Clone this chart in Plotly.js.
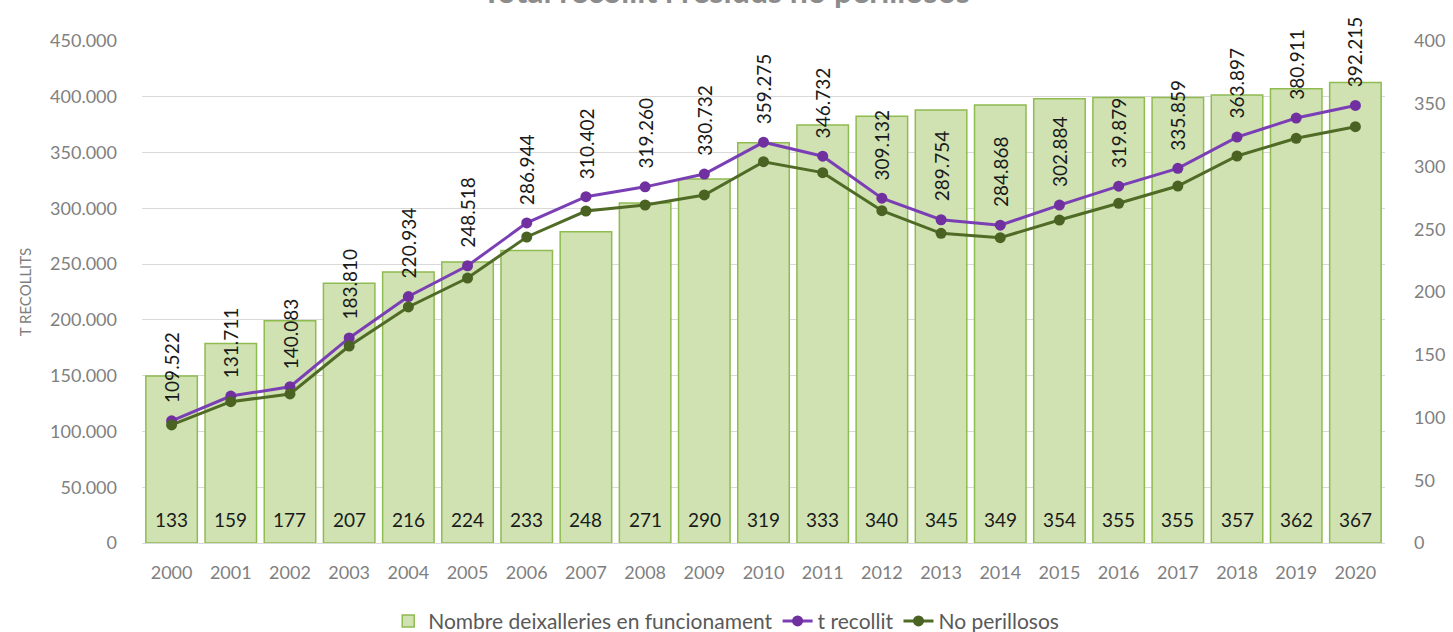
<!DOCTYPE html>
<html>
<head>
<meta charset="utf-8">
<script src="https://cdn.plot.ly/plotly-3.0.1.min.js"></script>
<style>html,body{margin:0;padding:0;background:#fff;}#chart{width:1453px;height:632px;}</style>
</head>
<body>
<div id="chart"></div>
<script>
const years = ['2000','2001','2002','2003','2004','2005','2006','2007','2008','2009','2010','2011','2012','2013','2014','2015','2016','2017','2018','2019','2020'];
const deixalleries = [133,159,177,207,216,224,233,248,271,290,319,333,340,345,349,354,355,355,357,362,367];
const tRecollit = [109522,131711,140083,183810,220934,248518,286944,310402,319260,330732,359275,346732,309132,289754,284868,302884,319879,335859,363897,380911,392215];
const noPerillosos = [105800,126700,133600,176600,211600,237500,274300,297600,303000,312000,341800,332000,297900,277600,273700,289500,304500,320000,346900,362800,373200];
const chartTitle = 'Total recollit i residus no perillosos';

function fmt(v){ return String(v).replace(/\B(?=(\d{3})+(?!\d))/g,'.'); }

const FONT = 'Lato, "Open Sans", sans-serif';

const traces = [
  {
    type:'bar', x:years, y:deixalleries, yaxis:'y', name:'Nombre deixalleries en funcionament',
    marker:{color:'#d0e2b2', line:{color:'#8fbb50', width:1.5}},
    hoverinfo:'skip'
  },
  {
    type:'scatter', mode:'lines+markers', x:years, y:tRecollit, yaxis:'y2', name:'t recollit',
    line:{color:'#7b3fb5', width:3}, marker:{color:'#7030a0', size:11}
  },
  {
    type:'scatter', mode:'lines+markers', x:years, y:noPerillosos, yaxis:'y2', name:'No perillosos',
    line:{color:'#4f6b26', width:3}, marker:{color:'#4a6323', size:11}
  }
];

const annotations = years.map((yr,i)=>({
  x:i, y:tRecollit[i], xref:'x', yref:'y2', text:fmt(tRecollit[i]),
  showarrow:false, textangle:-90, yanchor:'bottom', xanchor:'center', yshift:16,
  font:{family:FONT, size:19, color:'#1a1a1a'}
}));
years.forEach((yr,i)=>annotations.push({
  x:i, y:0, xref:'x', yref:'y', text:String(deixalleries[i]),
  showarrow:false, yanchor:'bottom', xanchor:'center', yshift:10,
  font:{family:FONT, size:19, color:'#1a1a1a'}
}));
annotations.push({
  xref:'paper', yref:'paper', x:0.47, y:1, xanchor:'center', yanchor:'middle', yshift:51,
  text:'<b>'+chartTitle+'</b>', showarrow:false, font:{family:FONT, size:32, color:'#8c8c8c'}
});

const layout = {
  width:1453, height:632,
  margin:{l:142, r:68, t:41, b:89, pad:0},
  paper_bgcolor:'#fff', plot_bgcolor:'#fff',
  font:{family:FONT, color:'#7f7f7f'},
  separators:',.',
  bargap:0.13,
  showlegend:true,
  legend:{orientation:'h', x:0.47, xanchor:'center', xref:'paper', yref:'container', y:0.017, yanchor:'middle',
          font:{family:FONT, size:21, color:'#595959'}, traceorder:'normal'},
  xaxis:{type:'category', range:[-0.5,20.5], tickfont:{family:FONT, size:18, color:'#7f7f7f'}, showline:true, linecolor:'#d9d9d9', linewidth:1,
         ticks:'', showgrid:false, zeroline:false, ticklabelstandoff:13, automargin:false},
  yaxis:{side:'right', range:[0,400], dtick:50, tickfont:{family:FONT, size:18, color:'#7f7f7f'},
         showgrid:false, zeroline:false, ticks:'', ticklabelstandoff:28, automargin:false},
  yaxis2:{overlaying:'y', side:'left', range:[0,450000], dtick:50000, tickformat:',d',
          tickfont:{family:FONT, size:18, color:'#7f7f7f'}, showgrid:true, gridcolor:'#d9d9d9', gridwidth:1,
          zeroline:false, ticks:'', ticklabelstandoff:24, automargin:false,
          title:{text:'T RECOLLITS', font:{family:FONT, size:15, color:'#7f7f7f'}, standoff:14}},
  annotations:annotations
};

Plotly.newPlot('chart', traces, layout, {displayModeBar:false, staticPlot:true});
</script>
</body>
</html>
